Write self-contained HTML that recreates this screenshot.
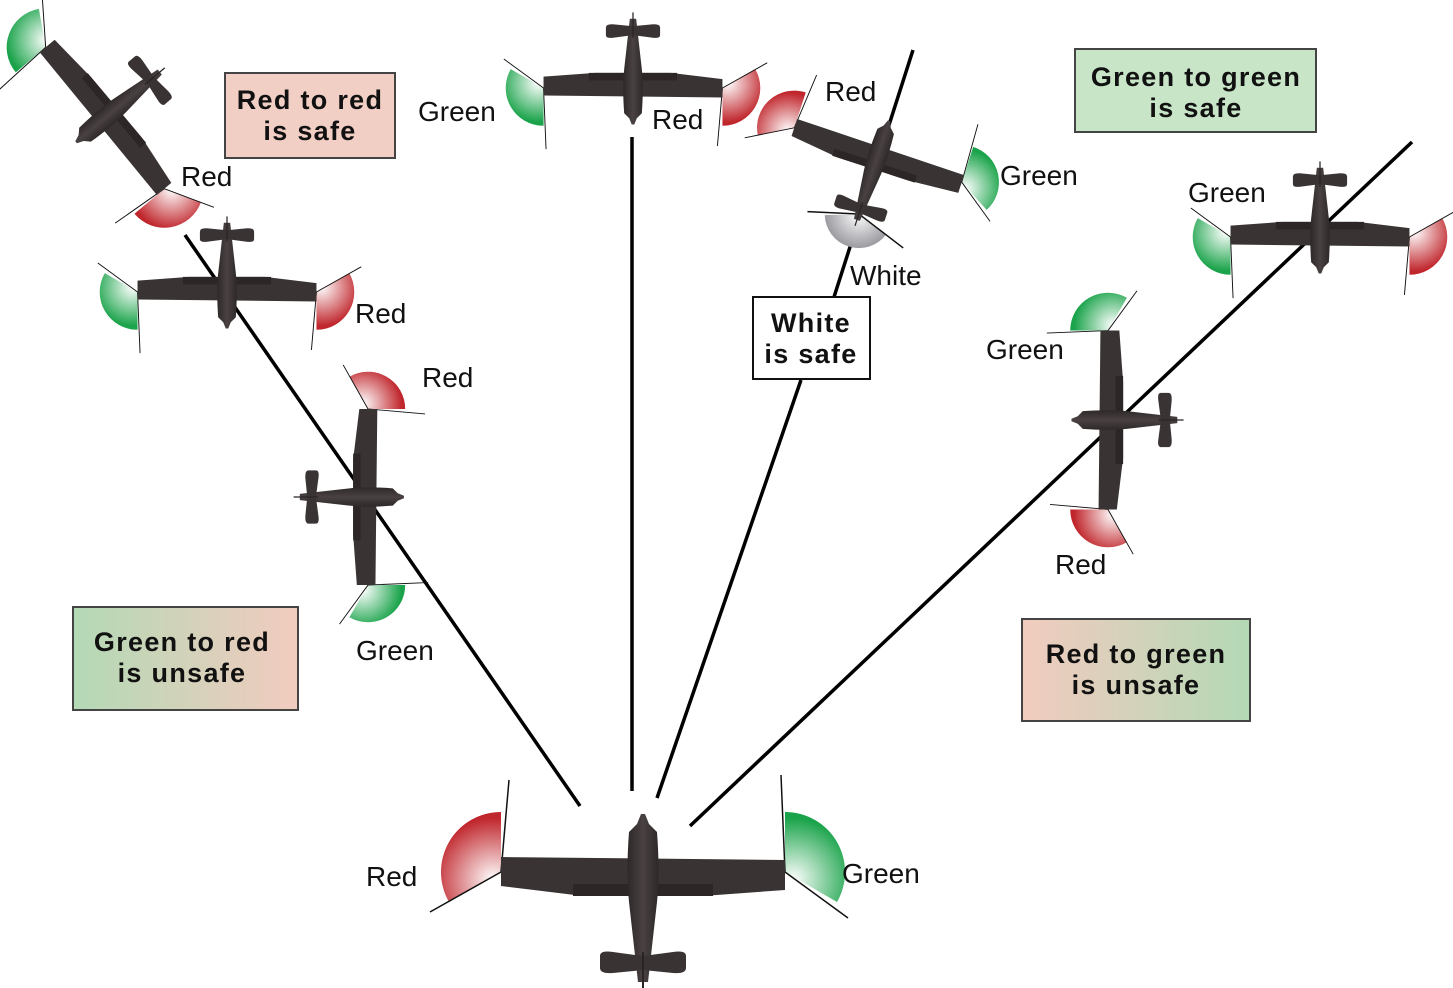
<!DOCTYPE html>
<html><head><meta charset="utf-8"><style>
html,body{margin:0;padding:0;background:#fff}
svg{display:block}
text{font-family:"Liberation Sans",sans-serif}
.lb{font-size:28px;fill:#111}
.bx{font-size:27px;font-weight:bold;fill:#111;letter-spacing:1.3px}
</style></head><body>
<svg width="1453" height="988" viewBox="0 0 1453 988" xmlns="http://www.w3.org/2000/svg">
<defs>
<radialGradient id="gr" gradientUnits="userSpaceOnUse" cx="-150" cy="8" r="62"><stop offset="0" stop-color="#fff"/><stop offset="1" stop-color="#c0272d"/></radialGradient>
<radialGradient id="gg" gradientUnits="userSpaceOnUse" cx="150" cy="8" r="62"><stop offset="0" stop-color="#fff"/><stop offset="1" stop-color="#1aa34a"/></radialGradient>
<radialGradient id="gw" gradientUnits="userSpaceOnUse" cx="0" cy="100" r="55"><stop offset="0" stop-color="#fff"/><stop offset="1" stop-color="#9a9aa0"/></radialGradient>
<linearGradient id="body" x1="0" y1="0" x2="1" y2="0"><stop offset="0" stop-color="#2e2828"/><stop offset="0.5" stop-color="#4a4242"/><stop offset="1" stop-color="#2e2828"/></linearGradient>
<linearGradient id="gu1" x1="0" y1="0" x2="1" y2="0"><stop offset="0" stop-color="#b3d9b5"/><stop offset="1" stop-color="#f2cbbf"/></linearGradient>
<linearGradient id="gu2" x1="0" y1="0" x2="1" y2="0"><stop offset="0" stop-color="#f2cbbf"/><stop offset="1" stop-color="#b3d9b5"/></linearGradient>
<g id="plane">
 <path d="M-142,-0 L-142,-60 A60,60 0 0 0 -194,30 Z" fill="url(#gr)"/>
 <path d="M142,0 L142,-60 A60,60 0 0 1 194,30 Z" fill="url(#gg)"/>
 <g stroke="#111" stroke-width="1.5" fill="none">
  <path d="M-142,0 L-134,-92 M-142,0 L-213,40"/>
  <path d="M142,0 L138,-97 M142,0 L205,46"/>
 </g>
 <path d="M-142,-15 L142,-12 L142,18 L60,24 L-60,24 L-142,14 Z" fill="#3a3333"/>
 <rect x="-70" y="12" width="140" height="12" fill="#2c2626"/>
 <path d="M-2,-58 L2,-58 L6,-48 L14,-40 Q17,0 14,30 L5,110 L-5,110 L-14,30 Q-17,0 -14,-40 L-6,-48 Z" fill="url(#body)"/>
 <path d="M-43,84 Q-43,78 -30,80 L0,84 L30,80 Q43,78 43,84 L43,96 Q43,102 30,101 L0,98 L-30,101 Q-43,102 -43,96 Z" fill="#3a3333"/>
 <line x1="0" y1="80" x2="0" y2="120" stroke="#2a2424" stroke-width="2"/>
</g>
</defs>

<g stroke="#000" stroke-width="3.5" fill="none">
 <line x1="185" y1="235" x2="580" y2="806"/>
 <line x1="632" y1="137" x2="632" y2="791"/>
 <line x1="913" y1="50" x2="834" y2="297"/>
 <line x1="801" y1="380" x2="657" y2="798"/>
 <line x1="1412" y1="142" x2="690" y2="826"/>
</g>

<use href="#plane" transform="translate(643,872)"/>
<use href="#plane" transform="translate(633,88) rotate(180) scale(0.63)"/>
<use href="#plane" transform="translate(105,118) rotate(-130) scale(0.65)"/>
<use href="#plane" transform="translate(227,292) rotate(180) scale(0.63)"/>
<use href="#plane" transform="translate(368,497) rotate(90) scale(0.62)"/>
<g transform="translate(878,155) rotate(18) scale(0.62)">
 <path d="M0,100 L51.7,118.8 A55,55 0 0 1 -51.7,118.8 Z" fill="url(#gw)"/>
 <path d="M0,100 L85,130 M0,100 L-80,122" stroke="#111" stroke-width="2.4" fill="none"/>
 <use href="#plane"/>
</g>
<use href="#plane" transform="translate(1320,237) rotate(180) scale(0.63)"/>
<use href="#plane" transform="translate(1108,420) rotate(-90) scale(0.63)"/>

<rect x="225" y="73" width="170" height="85" fill="#f2cfc5" stroke="#444" stroke-width="2"/>
<text class="bx" x="310" y="109" text-anchor="middle">Red to red</text>
<text class="bx" x="310" y="140" text-anchor="middle">is safe</text>

<rect x="1075" y="49" width="241" height="83" fill="#c9e5c8" stroke="#444" stroke-width="2"/>
<text class="bx" x="1196" y="86" text-anchor="middle">Green to green</text>
<text class="bx" x="1196" y="117" text-anchor="middle">is safe</text>

<rect x="753" y="297" width="117" height="82" fill="#fff" stroke="#111" stroke-width="2"/>
<text class="bx" x="811" y="332" text-anchor="middle">White</text>
<text class="bx" x="811" y="363" text-anchor="middle">is safe</text>

<rect x="73" y="607" width="225" height="103" fill="url(#gu1)" stroke="#444" stroke-width="2"/>
<text class="bx" x="182" y="651" text-anchor="middle">Green to red</text>
<text class="bx" x="182" y="682" text-anchor="middle">is unsafe</text>

<rect x="1022" y="619" width="228" height="102" fill="url(#gu2)" stroke="#444" stroke-width="2"/>
<text class="bx" x="1136" y="663" text-anchor="middle">Red to green</text>
<text class="bx" x="1136" y="694" text-anchor="middle">is unsafe</text>

<text class="lb" x="181" y="186">Red</text>
<text class="lb" x="418" y="121">Green</text>
<text class="lb" x="652" y="129">Red</text>
<text class="lb" x="825" y="101">Red</text>
<text class="lb" x="1000" y="185">Green</text>
<text class="lb" x="1188" y="202">Green</text>
<text class="lb" x="355" y="323">Red</text>
<text class="lb" x="422" y="387">Red</text>
<text class="lb" x="850" y="285">White</text>
<text class="lb" x="986" y="359">Green</text>
<text class="lb" x="356" y="660">Green</text>
<text class="lb" x="1055" y="574">Red</text>
<text class="lb" x="366" y="886">Red</text>
<text class="lb" x="842" y="883">Green</text>
</svg>
</body></html>
